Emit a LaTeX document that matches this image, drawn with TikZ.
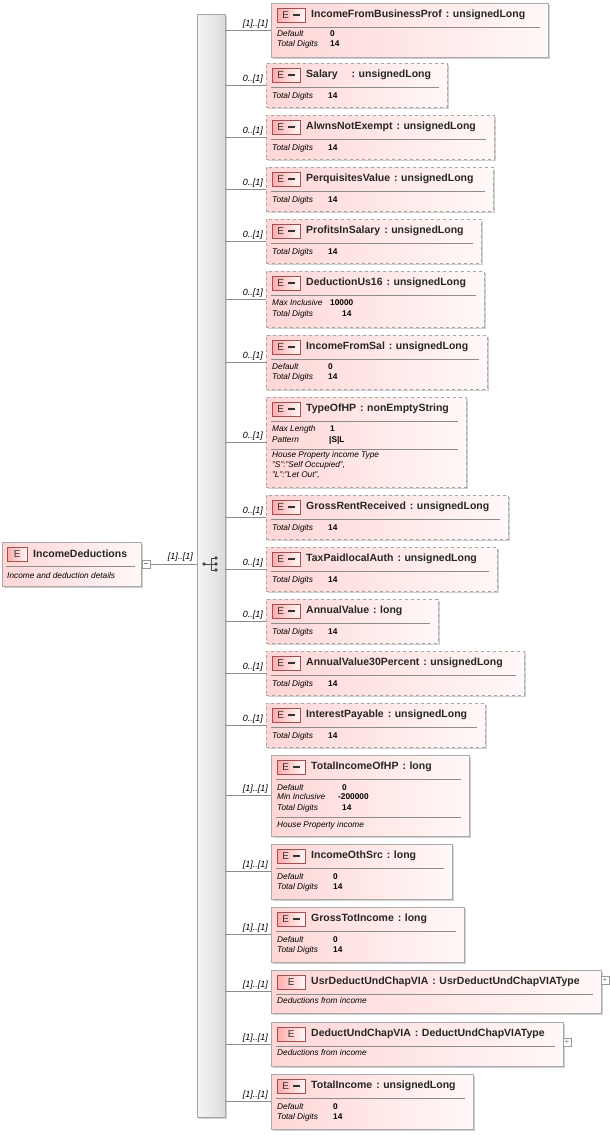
\documentclass[tikz,border=0pt]{standalone}
\usepackage{fontspec}
\setmainfont{Liberation Sans}
\usetikzlibrary{shadows}
\definecolor{pinkA}{RGB}{255,214,214}
\definecolor{pinkB}{RGB}{255,248,248}
\definecolor{bord}{RGB}{170,170,170}
\definecolor{badgeb}{RGB}{160,80,80}
\tikzset{
 ebox/.style={draw=bord,left color=pinkA,right color=pinkB,inner sep=0pt,
   drop shadow={shadow xshift=1.5pt,shadow yshift=-1.5pt,fill=black!30,opacity=.6}},
 dsh/.style={dashed,draw=black!35},
 sld/.style={solid},
 badge/.style={draw=badgeb,left color=pinkA!80!red,right color=pinkB,minimum width=28pt,minimum height=14pt,inner sep=0pt,font=\fontsize{10}{11}\selectfont,text=black!80},
 ttl/.style={font=\fontsize{10.5}{12}\selectfont\bfseries,inner sep=0pt,text=black!85},
 sep/.style={draw=black!45,line width=.5pt},
 key/.style={font=\fontsize{8.3}{9}\selectfont\itshape,inner sep=0pt},
 val/.style={font=\fontsize{8.3}{9}\selectfont\bfseries,inner sep=0pt},
 card/.style={font=\fontsize{9}{10}\selectfont\itshape,inner sep=0pt,anchor=south east},
 conn/.style={draw=black!45,line width=.5pt},
 pm/.style={draw=black!40,fill=white,minimum size=8pt,inner sep=0pt,font=\fontsize{8}{8}\selectfont,text=black!50},
}
% #1 id #2 x0 #3 y0 #4 x1 #5 y1 #6 style #7 title #8 badge text #9 card
\newcommand\eb[9]{%
 \node[ebox,#6,anchor=north west,minimum width=#4pt-#2pt,minimum height=#5pt-#3pt] (#1) at (#2,#3) {};
 \node[badge,anchor=north west] (#1b) at (#2+6,#3+5) {#8};
 \node[ttl,anchor=west] (#1t) at (#2+40,#3+11.5) {#7};
 \draw[sep] (#2+5,#3+24) -- (#4-8,#3+24);
 \draw[conn] (seq.east |- #1.west) -- (#1.west);
 \node[card] (#1c) at ([xshift=-3pt,yshift=2pt]#1.west) {#9};
}
\newcommand\kv[5]{\node[key,anchor=west] at (#1,#2) {#3}; \node[val,anchor=west] at (#4,#2) {#5};}
\newcommand\doc[3]{\node[key,anchor=west] at (#1,#2) {#3};}
\newcommand\Es{E\hspace{4pt}\rule[2.6pt]{7pt}{1.8pt}}
\newcommand\cl{\hspace{4pt}:\hspace{3.5pt}}
\begin{document}
\begin{tikzpicture}[x=1pt,y=-1pt]
\useasboundingbox[fill=white] (0,0) rectangle (610,1135);
% sequence
\node[draw=black!35,left color=black!4,right color=black!14,minimum width=28pt,minimum height=1103pt,inner sep=0pt,anchor=north west,
 drop shadow={shadow xshift=1.5pt,shadow yshift=-1.5pt,fill=black!30,opacity=.6}] (seq) at (197,14) {};
\coordinate (ic) at (211,564);
\fill[black!70] (204,564) circle (1.8pt);
\draw[black!70,line width=.8pt] (204,564) -- (211,564) (211,558) -- (211,570) (211,558) -- (216,558) (211,570) -- (216,570) (211,564) -- (216,564);
\fill[black!70] (216,558) circle (1.8pt) (216,564) circle (1.8pt) (216,570) circle (1.8pt);
% root
\node[ebox,sld,anchor=north west,minimum width=139pt,minimum height=44pt] (root) at (2,542) {};
\node[badge,anchor=north west,minimum width=20pt] (rootb) at (7,547) {E};
\node[ttl,anchor=west] (roott) at (33,553.5) {IncomeDeductions};
\draw[sep] (6,566) -- (135,566);
\doc{7}{576}{Income and deduction details}
\node[pm] (rootm) at (146,564) {\rule[2.5pt]{4pt}{0.5pt}};
\draw[conn] (rootm.east) -- (seq.west |- rootm.east);
\node[card] (rootc) at (193,562) {[1]..[1]};
% children
\eb{b1}{271}{3}{548}{57}{sld}{IncomeFromBusinessProf\cl unsignedLong}{\Es}{[1]..[1]}
\kv{277}{34}{Default}{330}{0}\kv{277}{44}{Total Digits}{330}{14}
\eb{b2}{266}{63}{447}{107}{dsh}{Salary\hspace{14pt}:\hspace{3.5pt}unsignedLong}{\Es}{0..[1]}
\kv{272}{96}{Total Digits}{328}{14}
\eb{b3}{266}{115}{494}{159}{dsh}{AlwnsNotExempt\cl unsignedLong}{\Es}{0..[1]}
\kv{272}{148}{Total Digits}{328}{14}
\eb{b4}{266}{167}{493}{211}{dsh}{PerquisitesValue\cl unsignedLong}{\Es}{0..[1]}
\kv{272}{200}{Total Digits}{328}{14}
\eb{b5}{266}{219}{481}{263}{dsh}{ProfitsInSalary\cl unsignedLong}{\Es}{0..[1]}
\kv{272}{252}{Total Digits}{328}{14}
\eb{b6}{266}{271}{484}{327}{dsh}{DeductionUs16\cl unsignedLong}{\Es}{0..[1]}
\kv{272}{303}{Max Inclusive}{330}{10000}\kv{272}{314}{Total Digits}{342}{14}
\eb{b7}{266}{335}{487}{389}{dsh}{IncomeFromSal\cl unsignedLong}{\Es}{0..[1]}
\kv{272}{367}{Default}{328}{0}\kv{272}{377}{Total Digits}{328}{14}
\eb{b8}{266}{397}{466}{487}{dsh}{TypeOfHP\cl nonEmptyString}{\Es}{0..[1]}
\kv{272}{429}{Max Length}{330}{1}\kv{272}{440}{Pattern}{329}{|S|L}
\draw[sep] (271,449) -- (458,449);
\doc{272}{455}{House Property income Type}\doc{272}{465}{"S":"Self Occupied",}\doc{272}{475}{"L":"Let Out",}
\eb{b9}{266}{495}{508}{539}{dsh}{GrossRentReceived\cl unsignedLong}{\Es}{0..[1]}
\kv{272}{528}{Total Digits}{328}{14}
\eb{b10}{266}{547}{497}{591}{dsh}{TaxPaidlocalAuth\cl unsignedLong}{\Es}{0..[1]}
\kv{272}{580}{Total Digits}{328}{14}
\eb{b11}{266}{599}{438}{643}{dsh}{AnnualValue\cl long}{\Es}{0..[1]}
\kv{272}{632}{Total Digits}{328}{14}
\eb{b12}{266}{651}{524}{695}{dsh}{AnnualValue30Percent\cl unsignedLong}{\Es}{0..[1]}
\kv{272}{684}{Total Digits}{328}{14}
\eb{b13}{266}{703}{485}{747}{dsh}{InterestPayable\cl unsignedLong}{\Es}{0..[1]}
\kv{272}{736}{Total Digits}{328}{14}
\eb{b14}{271}{755}{469}{836}{sld}{TotalIncomeOfHP\cl long}{\Es}{[1]..[1]}
\kv{277}{788}{Default}{342}{0}\kv{277}{797}{Min Inclusive}{338}{-200000}\kv{277}{808}{Total Digits}{342}{14}
\draw[sep] (276,817) -- (461,817);
\doc{277}{825}{House Property income}
\eb{b15}{271}{844}{452}{899}{sld}{IncomeOthSrc\cl long}{\Es}{[1]..[1]}
\kv{277}{877}{Default}{333}{0}\kv{277}{887}{Total Digits}{333}{14}
\eb{b16}{271}{907}{464}{962}{sld}{GrossTotIncome\cl long}{\Es}{[1]..[1]}
\kv{277}{940}{Default}{333}{0}\kv{277}{950}{Total Digits}{333}{14}
\eb{b17}{271}{970}{601}{1013}{sld}{UsrDeductUndChapVIA\cl UsrDeductUndChapVIAType}{E}{[1]..[1]}
\doc{277}{1001}{Deductions from income}
\node[pm] (b17p) at (605,980) {+};
\eb{b18}{271}{1022}{563}{1066}{sld}{DeductUndChapVIA\cl DeductUndChapVIAType}{E}{[1]..[1]}
\doc{277}{1053}{Deductions from income}
\node[pm] (b18p) at (567,1042) {+};
\eb{b19}{271}{1074}{473}{1129}{sld}{TotalIncome\cl unsignedLong}{\Es}{[1]..[1]}
\kv{277}{1107}{Default}{333}{0}\kv{277}{1117}{Total Digits}{333}{14}
\end{tikzpicture}
\end{document}
